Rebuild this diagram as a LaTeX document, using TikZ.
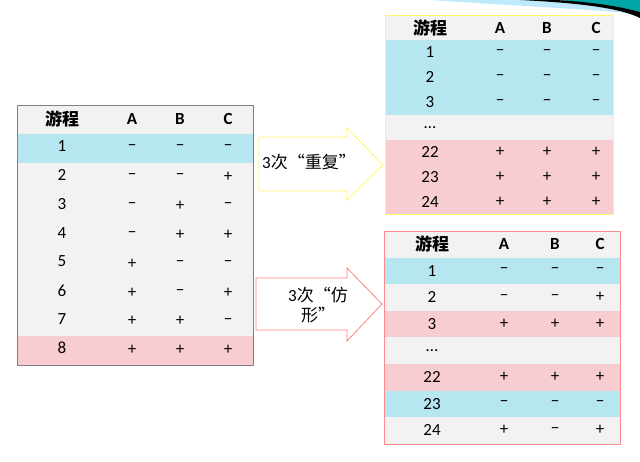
\documentclass[tikz,border=0pt]{standalone}
\usepackage{fontspec}
\setmainfont{Carlito}
\newfontfamily\cjk{Noto Sans CJK SC}
\begin{document}
\begin{tikzpicture}[x=1pt,y=-1pt,font=\fontsize{17}{20}\selectfont,
 cell/.style={anchor=center,inner sep=0pt},
 hd/.style={cell,font=\fontsize{17}{20}\selectfont\bfseries}]
\definecolor{rg}{HTML}{F2F2F2}\definecolor{rb}{HTML}{B6E6F0}\definecolor{rp}{HTML}{F8CDD1}
\useasboundingbox (0,0) rectangle (640,461);
% swoosh
\fill[cyan!25] (430,0) .. controls (520,6) and (600,10) .. (640,14) -- (640,0) -- cycle;
\fill[teal!70!cyan] (560,0) .. controls (600,4) and (625,8) .. (640,12) -- (640,0) -- cycle;
\fill[black] (520,0) .. controls (580,3) and (620,8) .. (640,18) -- (640,12) .. controls (615,5) and (580,1) .. (555,0) -- cycle;
% ---------- left table
\foreach \i/\c in {0/rg,1/rb,2/rg,3/rg,4/rg,5/rg,6/rg,7/rg,8/rp}
  \fill[\c] (17,105+\i*28.9) rectangle (253,105+\i*28.9+28.9);
\draw[gray,line width=0.8pt] (17,105) rectangle (253,365);
\node[hd] (lh0) at (62,119) {\cjk\bfseries 游程};
\node[hd] (lhA) at (132,119) {A};\node[hd] (lhB) at (180,119) {B};\node[hd] (lhC) at (228,119) {C};
\foreach \i/\n/\a/\b/\c in {1/1/−/−/−,2/2/−/−/+,3/3/−/+/−,4/4/−/+/+,5/5/+/−/−,6/6/+/−/+,7/7/+/+/−,8/8/+/+/+}{
  \node[cell] (l\i n) at (62,117+\i*28.9) {\n};
  \node[cell] (l\i a) at (132,119+\i*28.9) {\a};
  \node[cell] (l\i b) at (180,119+\i*28.9) {\b};
  \node[cell] (l\i c) at (228,119+\i*28.9) {\c};}
% ---------- top right
\foreach \i/\c in {0/rg,1/rb,2/rb,3/rb,4/rg,5/rp,6/rp,7/rp}
  \fill[\c] (385,15+\i*24.9) rectangle (613,15+\i*24.9+24.9);
\draw[yellow!60!white,line width=1pt] (385,15) rectangle (613,214);
\node[hd] (th0) at (430,27.5) {\cjk\bfseries 游程};
\node[hd] (thA) at (500,27.5) {A};\node[hd] (thB) at (547,27.5) {B};\node[hd] (thC) at (596,27.5) {C};
\foreach \i/\n/\a/\b/\c in {1/1/−/−/−,2/2/−/−/−,3/3/−/−/−,4/{\dots}/{}/{}/{},5/22/+/+/+,6/23/+/+/+,7/24/+/+/+}{
  \node[cell] (t\i n) at (430,27.5+\i*24.9) {\n};
  \node[cell] (t\i a) at (500,27.5+\i*24.9) {\a};
  \node[cell] (t\i b) at (547,27.5+\i*24.9) {\b};
  \node[cell] (t\i c) at (596,27.5+\i*24.9) {\c};}
% ---------- bottom right
\foreach \i/\c in {0/rg,1/rb,2/rg,3/rp,4/rg,5/rp,6/rb,7/rg}
  \fill[\c] (384,231+\i*26.6) rectangle (620,231+\i*26.6+26.6);
\draw[red!45!white,line width=1pt] (384,231) rectangle (620,444);
\node[hd] (bh0) at (432,244) {\cjk\bfseries 游程};
\node[hd] (bhA) at (504,244) {A};\node[hd] (bhB) at (555,244) {B};\node[hd] (bhC) at (600,244) {C};
\foreach \i/\n/\a/\b/\c in {1/1/−/−/−,2/2/−/−/+,3/3/+/+/+,4/{\dots}/{}/{}/{},5/22/+/+/+,6/23/−/−/−,7/24/+/−/+}{
  \node[cell] (b\i n) at (432,244+\i*26.6) {\n};
  \node[cell] (b\i a) at (504,244+\i*26.6) {\a};
  \node[cell] (b\i b) at (555,244+\i*26.6) {\b};
  \node[cell] (b\i c) at (600,244+\i*26.6) {\c};}
% ---------- arrows
\draw[yellow!60!white,fill=white,line width=0.8pt] (259,137) -- (347,137) -- (347,128) -- (383,165) -- (347,200) -- (347,191) -- (259,191) -- cycle;
\node[cell,anchor=west] (ar1) at (262,162) {3\cjk 次“重复”};
\draw[red!50!white,fill=white,line width=0.8pt] (256,278) -- (347,278) -- (347,268) -- (382,304) -- (347,341) -- (347,330) -- (256,330) -- cycle;
\node[cell,align=center] (ar2) at (318,305) {3\cjk 次“仿\\\cjk 形”};
\end{tikzpicture}
\end{document}
